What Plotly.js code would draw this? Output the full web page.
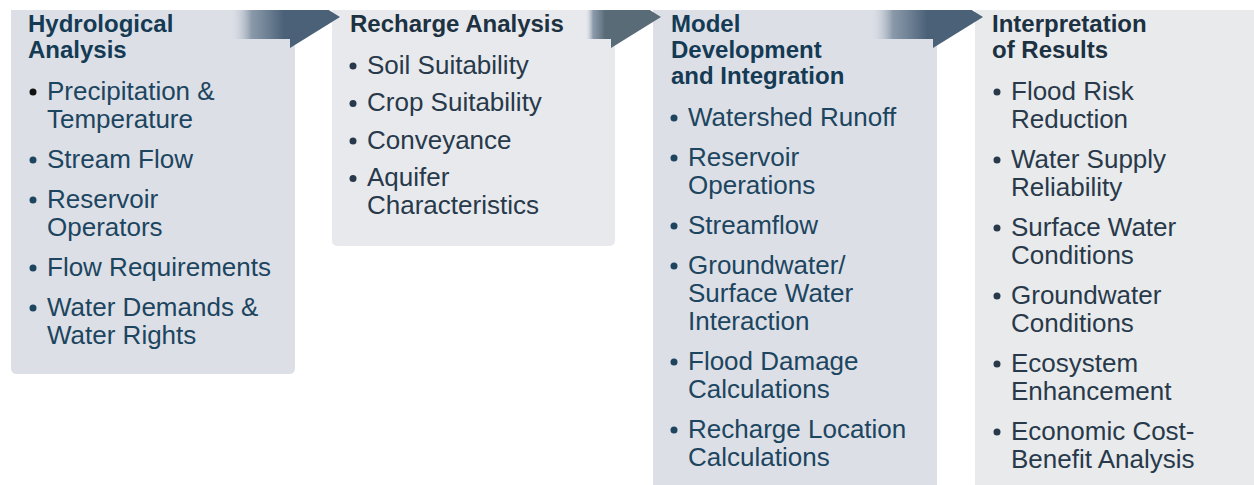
<!DOCTYPE html>
<html><head><meta charset="utf-8">
<script src="https://cdn.plot.ly/plotly-3.0.1.min.js"></script>
<style>html,body{margin:0;padding:0;background:#fff;} #chart{width:1254px;height:485px;}</style>
</head><body><div id="chart"></div>
<script>
// ---- content ----
const stage1Title = ["Hydrological", "Analysis"];
const stage1Items = [["Precipitation &", "Temperature"], ["Stream Flow"], ["Reservoir", "Operators"], ["Flow Requirements"], ["Water Demands &", "Water Rights"]];
const stage2Title = ["Recharge Analysis"];
const stage2Items = [["Soil Suitability"], ["Crop Suitability"], ["Conveyance"], ["Aquifer", "Characteristics"]];
const stage3Title = ["Model", "Development", "and Integration"];
const stage3Items = [["Watershed Runoff"], ["Reservoir", "Operations"], ["Streamflow"], ["Groundwater/", "Surface Water", "Interaction"], ["Flood Damage", "Calculations"], ["Recharge Location", "Calculations"]];
const stage4Title = ["Interpretation", "of Results"];
const stage4Items = [["Flood Risk", "Reduction"], ["Water Supply", "Reliability"], ["Surface Water", "Conditions"], ["Groundwater", "Conditions"], ["Ecosystem", "Enhancement"], ["Economic Cost-", "Benefit Analysis"]];

const titles = [stage1Title, stage2Title, stage3Title, stage4Title];
const items = [stage1Items, stage2Items, stage3Items, stage4Items];

// ---- layout / style ----
const W = 1254, H = 485, TOP = 10;
const boxes = [
  {x0: 11, x1: 295, y1: 374, bg: '#dcdfe6', tc: '#143a54', ic: '#1c4560', tx: 27, bx: 33, ix: 46, itemGap: 40},
  {x0: 332, x1: 615, y1: 246, bg: '#e8e9ec', tc: '#1c3141', ic: '#27394a', tx: 349, bx: 353, ix: 366, itemGap: 37.5},
  {x0: 653, x1: 937, y1: H + 20, bg: '#dcdfe6', tc: '#143a54', ic: '#1c4560', tx: 670, bx: 674, ix: 687, itemGap: 40},
  {x0: 975, x1: W + 20, y1: H + 20, bg: '#e9eaec', tc: '#1c3141', ic: '#28394a', tx: 991, bx: 997, ix: 1010, itemGap: 40}
];
const arrows = [
  {g0: 230, xb: 290, c: '#4b6178', bg: '220,223,230'},
  {g0: 585, xb: 611, c: '#5a6b78', bg: '232,233,236'},
  {g0: 870, xb: 933, c: '#4b6178', bg: '220,223,230'}
];
const FONT = '"Liberation Sans", Arial, sans-serif';
const TFS = 24, IFS = 26;
const titleStep = 26, lineStep = 28;

const shapes = [];
const r = 6;
boxes.forEach(b => {
  shapes.push({
    type: 'path', layer: 'below', line: {width: 0}, fillcolor: b.bg,
    path: `M${b.x0},${TOP} L${b.x1},${TOP} L${b.x1},${b.y1 - r} Q${b.x1},${b.y1} ${b.x1 - r},${b.y1} L${b.x0 + r},${b.y1} Q${b.x0},${b.y1} ${b.x0},${b.y1 - r} Z`
  });
});

const traces = arrows.map(a => {
  const tipX = a.xb + 50, tipY = 17, botY = 48, bandBot = 39;
  const topX = a.xb + 50 * ((TOP + 14) / (tipY + 14));
  return {
    type: 'scatter', mode: 'lines', hoverinfo: 'skip', showlegend: false,
    x: [a.g0, topX, tipX, a.xb, a.xb, a.g0, a.g0],
    y: [TOP, TOP, tipY, botY, bandBot, bandBot, TOP],
    line: {width: 0, color: a.c},
    fill: 'toself',
    fillgradient: {type: 'horizontal', start: a.g0, stop: a.xb - 6,
      colorscale: [[0, `rgba(${a.bg},0)`], [0.4, 'rgba(110,130,150,0.75)'], [1, a.c]]}
  };
});

const annotations = [];
const bulletX = [], bulletY = [], bulletC = [];
function addText(x, yBase, txt, color, size, weight) {
  annotations.push({
    x: x, y: yBase + 0.25 * size, xref: 'x', yref: 'y', xanchor: 'left', yanchor: 'bottom',
    borderpad: 0, text: txt, showarrow: false,
    font: {family: FONT, size: size, color: color, weight: weight}
  });
}
boxes.forEach((b, i) => {
  let y = 32;
  titles[i].forEach((t, k) => { addText(b.tx, y, t, b.tc, TFS, 700); if (k < titles[i].length - 1) y += titleStep; });
  y += 42;
  items[i].forEach((it, j) => {
    if (j > 0) y += b.itemGap;
    bulletX.push(b.bx); bulletY.push(y - 8); bulletC.push((i === 0 && j === 0) ? '#111111' : b.ic);
    it.forEach((ln, k) => { if (k > 0) y += lineStep; addText(b.ix, y, ln, b.ic, IFS, 400); });
  });
});
traces.push({
  type: 'scatter', mode: 'markers', hoverinfo: 'skip', showlegend: false,
  x: bulletX, y: bulletY,
  marker: {size: 7, color: bulletC, line: {width: 0}}
});

const layout = {
  width: W, height: H, margin: {l: 0, r: 0, t: 0, b: 0},
  paper_bgcolor: '#ffffff', plot_bgcolor: '#ffffff',
  xaxis: {range: [0, W], visible: false, fixedrange: true},
  yaxis: {range: [H, 0], visible: false, fixedrange: true},
  shapes: shapes, annotations: annotations, showlegend: false
};
Plotly.newPlot('chart', traces, layout, {displayModeBar: false, staticPlot: true});
</script></body></html>
